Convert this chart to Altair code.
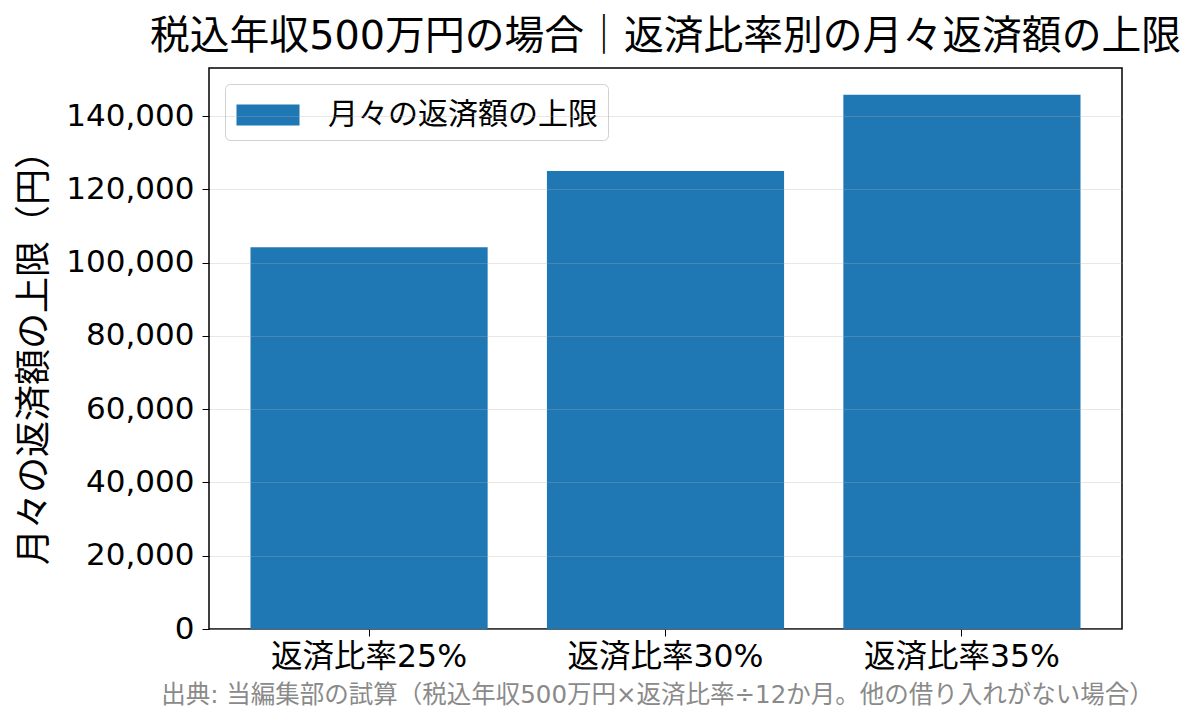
import altair as alt
import pandas as pd

FONT = "DejaVu Sans, Noto Sans CJK JP"
BAR_COLOUR = "#1f77b4"

categories = ["返済比率25%", "返済比率30%", "返済比率35%"]
monthly_limit = [104167, 125000, 145833]
series_name = "月々の返済額の上限"

TITLE = "税込年収500万円の場合｜返済比率別の月々返済額の上限"
FOOTER = "出典: 当編集部の試算（税込年収500万円×返済比率÷12か月。他の借り入れがない場合）"


def build_chart():
    df = pd.DataFrame(
        {"区分": categories, "金額": monthly_limit, "系列": [series_name] * len(categories)}
    )

    bars = (
        alt.Chart(df)
        .mark_bar(color=BAR_COLOUR)
        .encode(
            x=alt.X(
                "区分:N",
                sort=categories,
                scale=alt.Scale(paddingInner=0.2, paddingOuter=0.14),
                axis=alt.Axis(
                    title=FOOTER,
                    titleColor="#8a8a8a",
                    titleFontSize=24.5,
                    titleFontWeight="normal",
                    titlePadding=11,
                    titleX=448,
                    labelAngle=0,
                    labelFontSize=31.5,
                    labelColor="black",
                    labelLimit=0,
                    labelPadding=5,
                    tickSize=7,
                    tickColor="black",
                    domain=False,
                ),
            ),
            y=alt.Y(
                "金額:Q",
                scale=alt.Scale(domain=[0, 153125], nice=False),
                axis=alt.Axis(
                    title="月々の返済額の上限（円）",
                    titleFontSize=36,
                    titleFontWeight="normal",
                    titleColor="black",
                    titlePadding=12,
                    values=[0, 20000, 40000, 60000, 80000, 100000, 120000, 140000],
                    format=",d",
                    labelFontSize=31,
                    labelColor="black",
                    labelPadding=8,
                    tickSize=7,
                    tickColor="black",
                    domain=False,
                    grid=True,
                    gridColor="#b0b0b0",
                    gridOpacity=0.3,
                    zindex=1,
                ),
            ),
            fill=alt.Fill(
                "系列:N",
                scale=alt.Scale(domain=[series_name], range=[BAR_COLOUR]),
                legend=alt.Legend(
                    title=None,
                    orient="top-left",
                    offset=16,
                    labelFontSize=30,
                    labelColor="black",
                    labelLimit=0,
                    symbolType="M-1.5,-0.5H1.5V0.5H-1.5Z",
                    symbolSize=1764,
                    symbolStrokeWidth=0,
                    symbolOffset=12,
                    labelOffset=39,
                    fillColor="white",
                    strokeColor="#d0d0d0",
                    cornerRadius=5,
                    padding=10,
                ),
            ),
        )
    )

    chart = (
        bars.properties(
            width=913,
            height=561,
            autosize=alt.AutoSizeParams(type="none"),
            padding={"left": 201, "top": 60, "right": 70, "bottom": 90},
            title=alt.TitleParams(
                TITLE, fontSize=39.8, fontWeight="normal", color="black",
                anchor="middle", offset=10,
            ),
        )
        .configure(font=FONT)
        .configure_view(stroke="black", strokeWidth=1.5)
    )
    return chart


chart = build_chart()
chart.save("out.html", embed_options={"renderer": "svg", "actions": False})
